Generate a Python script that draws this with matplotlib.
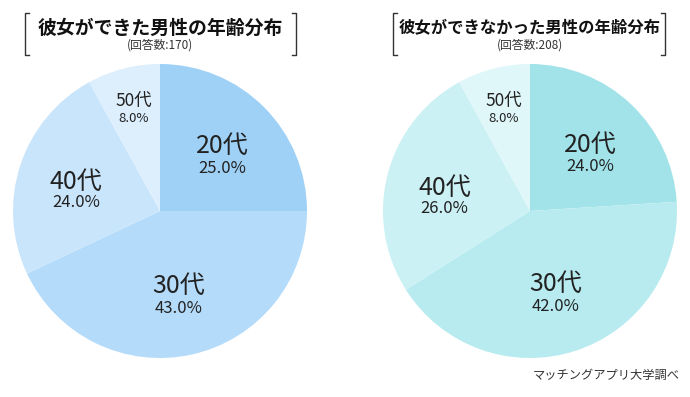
import numpy as np
import matplotlib.pyplot as plt

plt.rcParams['font.family'] = ['Noto Sans CJK JP', 'DejaVu Sans']

ages = ["20代", "30代", "40代", "50代"]
with_gf = [25.0, 43.0, 24.0, 8.0]
without_gf = [24.0, 42.0, 26.0, 8.0]
titles = ["彼女ができた男性の年齢分布", "彼女ができなかった男性の年齢分布"]
subtitles = ["(回答数:170)", "(回答数:208)"]

colors_left = ['#9fd1f7', '#b4dbf9', '#c9e5fb', '#ddeffd']
colors_right = ['#a2e3ea', '#b7ebef', '#cbf1f4', '#e0f7f9']

W, H = 690, 397
fig = plt.figure(figsize=(W / 100, H / 100), dpi=100)

# label radius / shifts / font sizes per slice
label_r = [0.6, 0.57, 0.6, 0.72]
shift = [-0.05, -0.02, -0.05, 0.0]
name_fs = [18, 18, 18, 12.5]
pct_fs = [12, 12, 12, 9.5]
gap = [0.13, 0.13, 0.12, 0.1]

def draw_pie(cx, vals, colors, title, sub, title_fs, br_left, br_right):
    r = 147
    ax = fig.add_axes([(cx - r) / W, (H - 211 - r) / H, 2 * r / W, 2 * r / H])
    wedges, _ = ax.pie(vals, colors=colors, startangle=90, counterclock=False,
                       radius=1.0, wedgeprops=dict(linewidth=0))
    ax.set_xlim(-1, 1)
    ax.set_ylim(-1, 1)
    ax.set_aspect('equal')
    ax.axis('off')
    for i, w in enumerate(wedges):
        ang = np.deg2rad((w.theta1 + w.theta2) / 2)
        x = label_r[i] * np.cos(ang)
        y = label_r[i] * np.sin(ang) + shift[i]
        ax.text(x, y + gap[i] / 2, ages[i], ha='center', va='center',
                fontsize=name_fs[i], color='#222222')
        ax.text(x, y - gap[i] / 2 - 0.02, f"{vals[i]:.1f}%", ha='center', va='center',
                fontsize=pct_fs[i], color='#222222')

    fig.text(cx / W, 1 - 28 / H, title, ha='center', va='center',
             fontsize=title_fs, fontweight='bold', color='#111111')
    fig.text(cx / W, 1 - 45 / H, sub, ha='center', va='center',
             fontsize=8.5, color='#333333')
    # brackets
    for bx, d in [(br_left, 1), (br_right, -1)]:
        xs = [(bx + d * 4) / W, bx / W, bx / W, (bx + d * 4) / W]
        ys = [1 - 13 / H, 1 - 13 / H, 1 - 55 / H, 1 - 55 / H]
        fig.add_artist(plt.Line2D(xs, ys, color='#333333', linewidth=1.0))

draw_pie(160, with_gf, colors_left, titles[0], subtitles[0], 13.6, 25, 296)
draw_pie(530, without_gf, colors_right, titles[1], subtitles[1], 11.8, 393, 665)

fig.text(680 / W, 1 - 375 / H, "マッチングアプリ大学調べ", ha='right', va='center',
         fontsize=8.8, color='#333333')

fig.savefig('out.png', dpi=100)
